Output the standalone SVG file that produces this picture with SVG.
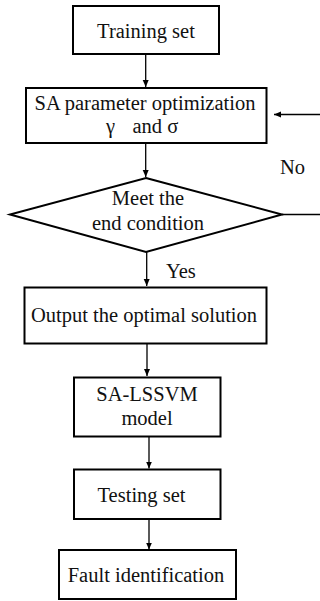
<svg xmlns="http://www.w3.org/2000/svg" width="320" height="601" viewBox="0 0 320 601">
<style>
.box{fill:#fff;stroke:#000;stroke-width:2}
.t{font-family:'Liberation Serif','Times New Roman',Times,'DejaVu Serif',serif;font-size:20.5px;fill:#111}
.c{text-anchor:middle}
.ln{stroke:#000;stroke-width:1.3;fill:none}
</style>
<defs>
<marker id="ah" markerWidth="8" markerHeight="8" refX="7" refY="4" orient="auto" markerUnits="userSpaceOnUse">
<path d="M0,1 L7,4 L0,7 Z" fill="#000"/>
</marker>
</defs>
<rect width="320" height="601" fill="#fff"/>
<g id="connectors">
<line class="ln" x1="145.7" y1="54" x2="145.7" y2="87" marker-end="url(#ah)"/>
<line class="ln" x1="145.7" y1="143" x2="145.7" y2="177" marker-end="url(#ah)"/>
<line class="ln" x1="146.7" y1="252" x2="146.7" y2="286" marker-end="url(#ah)"/>
<line class="ln" x1="147" y1="343" x2="147" y2="376" marker-end="url(#ah)"/>
<line class="ln" x1="149" y1="437" x2="149" y2="468.5" marker-end="url(#ah)"/>
<line class="ln" x1="149" y1="519" x2="149" y2="549.5" marker-end="url(#ah)"/>
<line class="ln" x1="282" y1="214.5" x2="320" y2="214.5"/>
<line class="ln" x1="322" y1="114.5" x2="274" y2="114.5" marker-end="url(#ah)"/>
<text class="t" x="280" y="174">No</text>
<text class="t" x="166" y="277.5">Yes</text>
</g>
<g id="training">
<rect class="box" x="73" y="6" width="146" height="48"/>
<text class="t c" x="146" y="38">Training set</text>
</g>
<g id="sa-opt">
<rect class="box" x="26" y="88" width="240.5" height="55"/>
<text class="t c" x="145" y="110">SA parameter optimization</text>
<text class="t" x="106" y="133">γ</text>
<text class="t" x="132.5" y="133">and σ</text>
</g>
<g id="decision">
<polygon class="box" points="146,178 282,214.5 146,252 10,214.5"/>
<text class="t c" x="148" y="205">Meet the</text>
<text class="t c" x="148" y="230">end condition</text>
</g>
<g id="output">
<rect class="box" x="24.5" y="287.5" width="242" height="56"/>
<text class="t c" x="144" y="321.5">Output the optimal solution</text>
</g>
<g id="model">
<rect class="box" x="74" y="377.5" width="146.5" height="59"/>
<text class="t c" x="147" y="400.5">SA-LSSVM</text>
<text class="t c" x="147" y="425">model</text>
</g>
<g id="testing">
<rect class="box" x="74" y="469.5" width="146.5" height="49.5"/>
<text class="t c" x="141.5" y="501.5">Testing set</text>
</g>
<g id="fault">
<rect class="box" x="59" y="550" width="177" height="49"/>
<text class="t c" x="146" y="581.5">Fault identification</text>
</g>
</svg>
